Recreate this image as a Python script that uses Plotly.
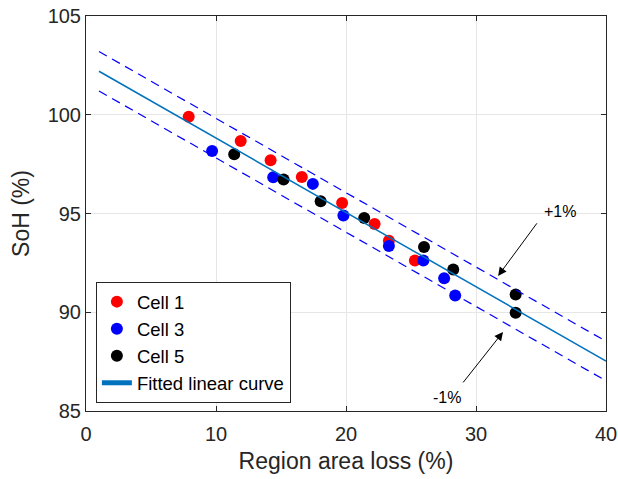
import plotly.graph_objects as go
import numpy as np

# Data
cell1_x = [7.9, 11.9, 14.2, 16.6, 19.7, 22.2, 23.3, 25.3]
cell1_y = [99.9, 98.67, 97.7, 96.85, 95.53, 94.47, 93.62, 92.62]

cell3_x = [9.7, 14.4, 17.45, 19.8, 23.3, 25.95, 27.55, 28.4]
cell3_y = [98.16, 96.83, 96.5, 94.9, 93.35, 92.62, 91.72, 90.85]

cell5_x = [11.4, 15.2, 18.05, 21.4, 26.0, 28.25, 33.05, 33.05]
cell5_y = [98.0, 96.72, 95.62, 94.77, 93.3, 92.17, 90.9, 89.97]

fit_intercept = 102.58
fit_slope = -0.3763
fit_range = [1, 40]
band = 1.0

x_ticks = [0, 10, 20, 30, 40]
y_ticks = [85, 90, 95, 100, 105]

fx = np.array(fit_range, dtype=float)
fy = fit_intercept + fit_slope * fx

fig = go.Figure()
msize = 12
fig.add_trace(go.Scatter(x=cell1_x, y=cell1_y, mode="markers", name="Cell 1",
                         marker=dict(color="#ff0000", size=msize)))
fig.add_trace(go.Scatter(x=cell3_x, y=cell3_y, mode="markers", name="Cell 3",
                         marker=dict(color="#0000ff", size=msize)))
fig.add_trace(go.Scatter(x=cell5_x, y=cell5_y, mode="markers", name="Cell 5",
                         marker=dict(color="#000000", size=msize)))
fig.add_trace(go.Scatter(x=fx, y=fy, mode="lines", name="Fitted linear curve",
                         line=dict(color="#0072BD", width=1.5)))
fig.add_trace(go.Scatter(x=fx, y=fy + band, mode="lines", showlegend=False,
                         line=dict(color="#0000ff", width=1.2, dash="9px,6px")))
fig.add_trace(go.Scatter(x=fx, y=fy - band, mode="lines", showlegend=False,
                         line=dict(color="#0000ff", width=1.2, dash="9px,6px")))

font_family = "Liberation Sans, Arial, sans-serif"

annotations = [
    dict(x=31.7, y=91.84, ax=34.77, ay=94.58, axref="x", ayref="y", xref="x", yref="y",
         text="", showarrow=True, arrowhead=2, arrowsize=1.7, arrowwidth=1, arrowcolor="#000000"),
    dict(x=36.45, y=95.1, xref="x", yref="y", text="+1%", showarrow=False,
         font=dict(size=16, color="#000000", family=font_family)),
    dict(x=32.08, y=89.0, ax=28.92, ay=86.37, axref="x", ayref="y", xref="x", yref="y",
         text="", showarrow=True, arrowhead=2, arrowsize=1.7, arrowwidth=1, arrowcolor="#000000"),
    dict(x=27.75, y=85.7, xref="x", yref="y", text="-1%", showarrow=False,
         font=dict(size=16, color="#000000", family=font_family)),
]

axis_common = dict(
    showgrid=True, gridcolor="#e6e6e6", gridwidth=1,
    showline=True, linecolor="#262626", linewidth=1, mirror="ticks",
    ticks="inside", ticklen=5, tickcolor="#262626",
    zeroline=False, automargin=False,
    tickfont=dict(size=20, color="#262626", family=font_family),
)

fig.update_layout(
    width=618, height=479,
    margin=dict(l=86, r=12, t=16, b=68),
    plot_bgcolor="white", paper_bgcolor="white",
    font=dict(family=font_family, color="#262626"),
    xaxis=dict(range=[0, 40], tickvals=x_ticks, ticklabelstandoff=5,
               title=dict(text="Region area loss (%)", font=dict(size=23, color="#262626"), standoff=8),
               **axis_common),
    yaxis=dict(range=[85, 105], tickvals=y_ticks,
               title=dict(text="SoH (%)", font=dict(size=23, color="#262626"), standoff=11),
               **axis_common),
    legend=dict(x=0.019, y=0.02, xanchor="left", yanchor="bottom",
                bordercolor="#262626", borderwidth=1, bgcolor="white",
                font=dict(size=18.5, color="#000000", family=font_family),
                tracegroupgap=0, itemsizing="constant"),
    annotations=annotations,
    showlegend=True,
)

fig.write_html("out.html")
